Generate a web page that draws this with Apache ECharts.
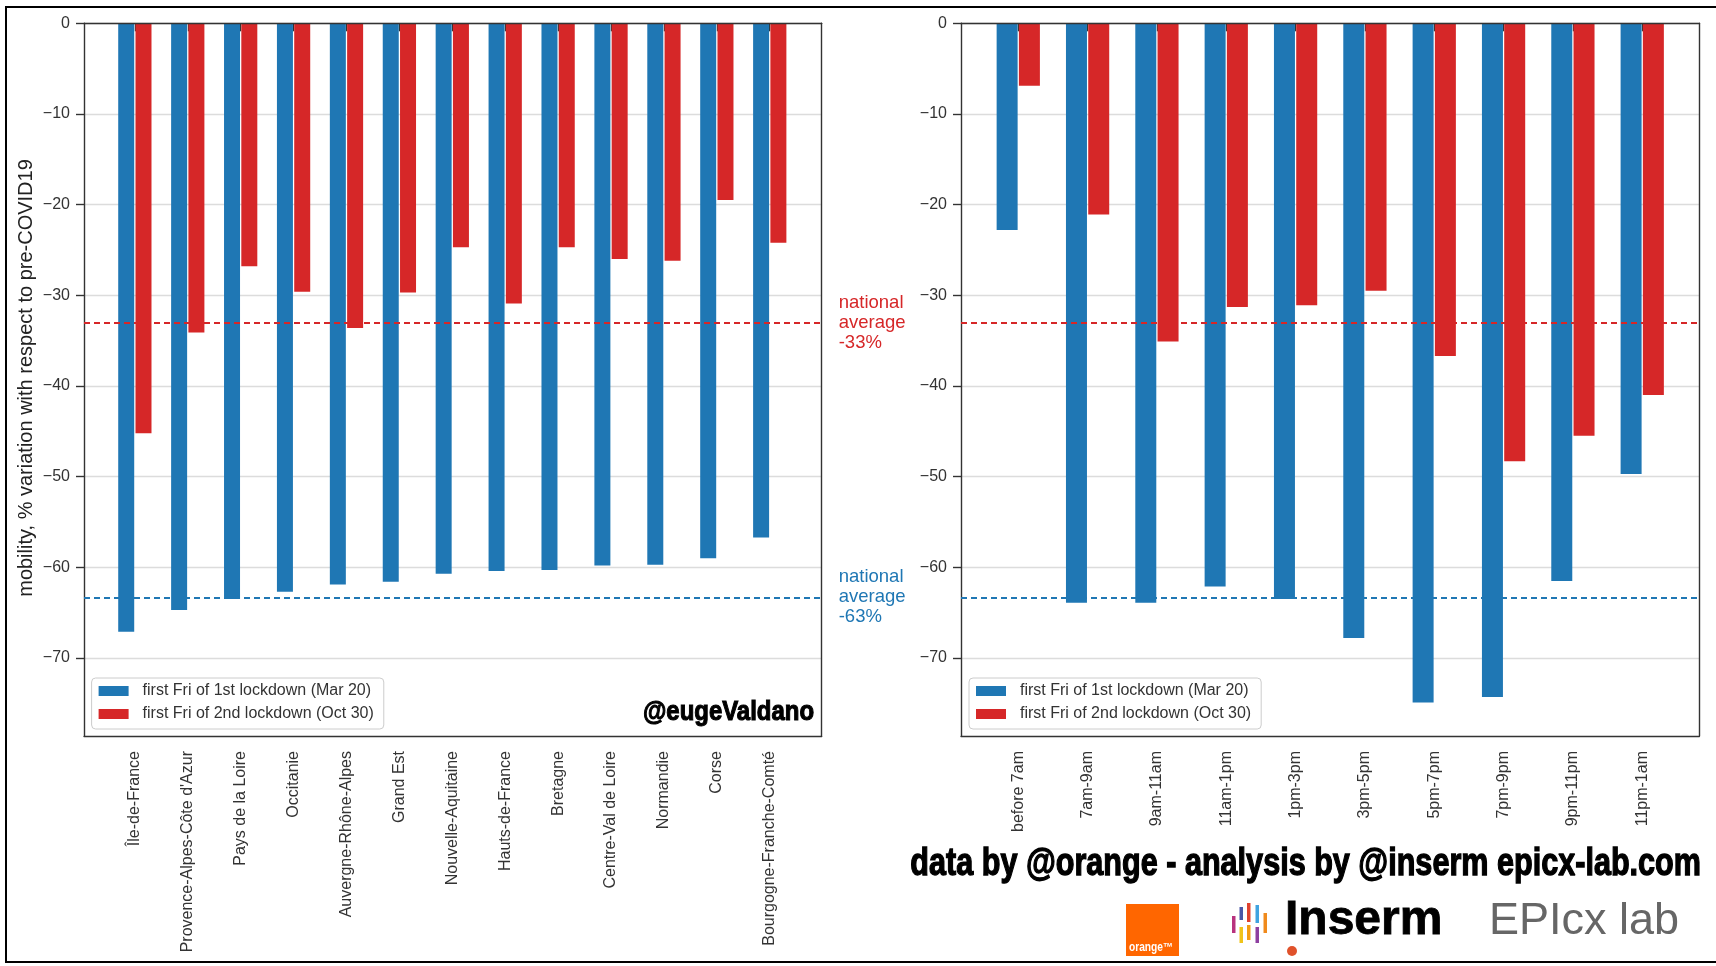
<!DOCTYPE html>
<html>
<head>
<meta charset="utf-8">
<script src="https://cdn.jsdelivr.net/npm/echarts@6/dist/echarts.min.js"></script>
<style>
html,body{margin:0;padding:0;background:#fff;}
#chart{width:1716px;height:966px;}
</style>
</head>
<body>
<div id="chart"></div>
<script>
// ---------- data ----------
const regions = ['Île-de-France', "Provence-Alpes-Côte d'Azur", 'Pays de la Loire', 'Occitanie',
  'Auvergne-Rhône-Alpes', 'Grand Est', 'Nouvelle-Aquitaine', 'Hauts-de-France', 'Bretagne',
  'Centre-Val de Loire', 'Normandie', 'Corse', 'Bourgogne-Franche-Comté'];
const regionFirstLockdown  = [-67.1, -64.7, -63.5, -62.7, -61.9, -61.6, -60.7, -60.4, -60.3, -59.8, -59.7, -59.0, -56.7];
const regionSecondLockdown = [-45.2, -34.1, -26.8, -29.6, -33.6, -29.7, -24.7, -30.9, -24.7, -26.0, -26.2, -19.5, -24.2];

const timeSlots = ['before 7am', '7am-9am', '9am-11am', '11am-1pm', '1pm-3pm', '3pm-5pm',
  '5pm-7pm', '7pm-9pm', '9pm-11pm', '11pm-1am'];
const slotFirstLockdown  = [-22.8, -63.9, -63.9, -62.1, -63.5, -67.8, -74.9, -74.3, -61.5, -49.7];
const slotSecondLockdown = [-6.9, -21.1, -35.1, -31.3, -31.1, -29.5, -36.7, -48.3, -45.5, -41.0];

const nationalAverage = [-33, -63.3];           // 2nd lockdown, 1st lockdown
const nationalAverageLabels = ['-33%', '-63%'];
const yTicks = [0, -10, -20, -30, -40, -50, -60, -70];
const seriesNames = ['first Fri of 1st lockdown (Mar 20)', 'first Fri of 2nd lockdown (Oct 30)'];
const yMin = -78.6, yMax = 0;

// ---------- style ----------
const BLUE = '#1f77b4', RED = '#d62728', INK = '#333333';
const FONT = '"Liberation Sans", Arial, sans-serif';

const panels = [
  { frame: {left: 84, top: 23.3, width: 737.7, height: 712.7},
    inner: {left: 108.4, top: 23.3, width: 687.8, height: 712.7},
    cats: regions, first: regionFirstLockdown, second: regionSecondLockdown,
    barWidth: 16, barGap: '8%', legendLeft: 91.6, labels: true },
  { frame: {left: 961, top: 23.3, width: 738.3, height: 712.7},
    inner: {left: 983.6, top: 23.3, width: 693.3, height: 712.7},
    cats: timeSlots, first: slotFirstLockdown, second: slotSecondLockdown,
    barWidth: 21, barGap: '6%', legendLeft: 969, labels: false }
];

const grid = [], xAxis = [], yAxis = [], series = [], legend = [];
const frameLine = {show: true, onZero: false, lineStyle: {color: INK, width: 1.4}};
const off = {show: false};

panels.forEach((p, k) => {
  const g0 = grid.length;
  grid.push(Object.assign({containLabel: false}, p.frame));
  grid.push(Object.assign({containLabel: false}, p.inner));
  const g1 = g0 + 1;
  const bx = xAxis.length, by = yAxis.length;
  xAxis.push({gridIndex: g0, type: 'value', min: 0, max: 1, position: 'bottom', z: 3,
    axisLine: frameLine, axisTick: off, axisLabel: off, splitLine: off});
  xAxis.push({gridIndex: g0, type: 'value', min: 0, max: 1, position: 'top', z: 3,
    axisLine: frameLine, axisTick: off, axisLabel: off, splitLine: off});
  xAxis.push({gridIndex: g1, type: 'category', data: p.cats,
    axisLine: off,
    axisTick: {show: true, alignWithLabel: true, length: 8, lineStyle: {color: INK, width: 1.4}},
    axisLabel: {rotate: 90, fontSize: 16, color: INK, margin: 15, fontFamily: FONT, interval: 0},
    splitLine: off});
  yAxis.push({gridIndex: g0, type: 'value', min: yMin, max: yMax, position: 'left',
    axisLine: {show: false},
    axisTick: {show: true, length: 8, customValues: yTicks, lineStyle: {color: INK, width: 1.4}},
    axisLabel: {customValues: yTicks, fontSize: 16, color: INK, margin: 14, fontFamily: FONT,
      formatter: v => v === 0 ? '0' : (v < 0 ? '\u2212' + Math.abs(v) : String(v))},
    splitLine: {show: true, lineStyle: {color: '#dcdcdc', width: 1.3}}});
  yAxis.push({gridIndex: g0, type: 'value', min: yMin, max: yMax, position: 'left', z: 3,
    axisLine: frameLine, axisTick: off, axisLabel: off, splitLine: off});
  yAxis.push({gridIndex: g0, type: 'value', min: yMin, max: yMax, position: 'right', z: 3,
    axisLine: frameLine, axisTick: off, axisLabel: off, splitLine: off});
  yAxis.push({gridIndex: g1, type: 'value', min: yMin, max: yMax, show: false});

  series.push({type: 'bar', name: seriesNames[0], xAxisIndex: bx + 2, yAxisIndex: by + 3,
    data: p.first, barWidth: p.barWidth, barGap: p.barGap, itemStyle: {color: BLUE}});
  series.push({type: 'bar', name: seriesNames[1], xAxisIndex: bx + 2, yAxisIndex: by + 3,
    data: p.second, barWidth: p.barWidth, barGap: p.barGap, itemStyle: {color: RED}});
  const avgColors = [RED, BLUE];
  series.push({type: 'line', name: 'avg' + k, xAxisIndex: bx, yAxisIndex: by, data: [],
    markLine: {symbol: ['none', 'none'], silent: true, animation: false,
      data: nationalAverage.map((v, i) => ({
        yAxis: v,
        lineStyle: {color: avgColors[i], type: [6, 4], width: 1.8},
        label: p.labels ? {show: true, position: 'end', distance: 17, color: avgColors[i],
          fontSize: 18.5, lineHeight: 20, fontFamily: FONT, align: 'left',
          formatter: 'national\naverage\n' + nationalAverageLabels[i]} : {show: false}
      }))}});

  legend.push({data: seriesNames, orient: 'vertical', left: p.legendLeft, top: 678,
    itemWidth: 30, itemHeight: 10, itemGap: 3, icon: 'rect', selectedMode: false,
    padding: [3, 10, 5, 7], backgroundColor: 'rgba(255,255,255,0.85)',
    borderColor: '#cccccc', borderWidth: 1, borderRadius: 4,
    textStyle: {fontSize: 16, color: INK, lineHeight: 20, fontFamily: FONT, padding: [0, 0, 0, 9]}});
});

// logo bars of Inserm mark: [x, y1, y2, color]
const insermBars = [
  [1232, 916, 933, '#b8327e'],
  [1239.5, 907, 920, '#4a56a6'], [1239.5, 927, 943, '#f0c419'],
  [1247, 903, 922, '#e0412e'], [1247, 925, 940, '#f39c12'],
  [1255.5, 905, 923, '#3fa3e0'], [1255.5, 927, 943, '#8e3fa0'],
  [1263.5, 913, 933, '#f08a1c']
];

const graphic = [
  {type: 'rect', shape: {x: 6, y: 7, width: 1730, height: 955}, style: {fill: 'none', stroke: '#000', lineWidth: 2}, z: 100},
  {type: 'text', x: 26, y: 378, rotation: Math.PI / 2, z: 10,
    style: {text: 'mobility, % variation with respect to pre-COVID19', fill: '#222', font: '20px ' + FONT,
      textAlign: 'center', textVerticalAlign: 'middle'}},
  {type: 'text', x: 814, y: 712, z: 10, scaleX: 0.855,
    style: {text: '@eugeValdano', fill: '#000', stroke: '#000', lineWidth: 1.1, font: 'bold 28px ' + FONT,
      textAlign: 'right', textVerticalAlign: 'middle'}},
  {type: 'text', x: 1701, y: 865, z: 10, scaleX: 0.805,
    style: {text: 'data by @orange - analysis by @inserm epicx-lab.com', fill: '#000', stroke: '#000', lineWidth: 1.3,
      font: 'bold 38px ' + FONT, textAlign: 'right', textVerticalAlign: 'middle'}},
  {type: 'rect', shape: {x: 1126, y: 904, width: 53, height: 52}, style: {fill: '#ff6600'}, z: 10},
  {type: 'text', x: 1129, y: 954, z: 11, scaleX: 0.85,
    style: {text: 'orange\u2122', fill: '#fff', font: 'bold 12px ' + FONT, textAlign: 'left', textVerticalAlign: 'bottom'}},
  {type: 'circle', shape: {cx: 1292, cy: 951, r: 5}, style: {fill: '#e0522b'}, z: 10},
  {type: 'text', x: 1285, y: 921, z: 10,
    style: {text: 'Inserm', fill: '#000', stroke: '#000', lineWidth: 0.8, font: 'bold 48px ' + FONT,
      textAlign: 'left', textVerticalAlign: 'middle'}},
  {type: 'text', x: 1489, y: 922, z: 10,
    style: {text: 'EPIcx lab', fill: '#666666', font: '45px ' + FONT, textAlign: 'left', textVerticalAlign: 'middle'}}
].concat(insermBars.map(b => ({type: 'rect', z: 10, shape: {x: b[0], y: b[1], width: 3.5, height: b[2] - b[1]},
  style: {fill: b[3]}})));

const chart = echarts.init(document.getElementById('chart'), null, {renderer: 'canvas'});
chart.setOption({
  animation: false,
  backgroundColor: '#ffffff',
  grid, xAxis, yAxis, series, legend, graphic
});
</script>
</body>
</html>
